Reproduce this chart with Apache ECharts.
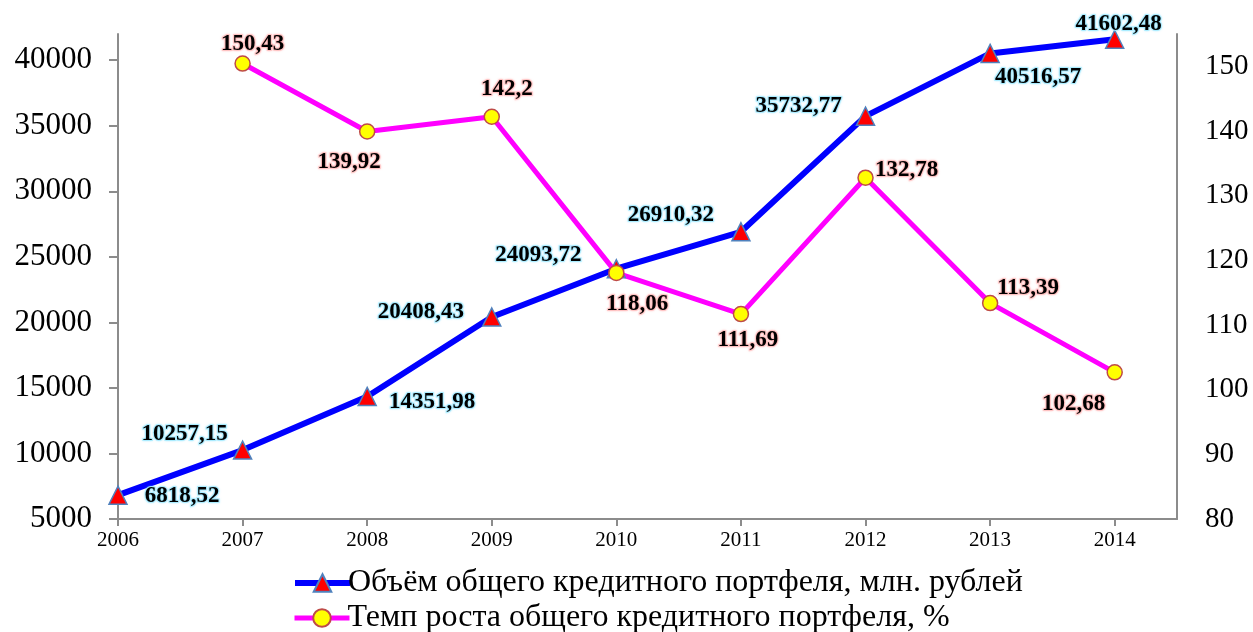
<!DOCTYPE html>
<html>
<head>
<meta charset="utf-8">
<script src="https://cdn.jsdelivr.net/npm/echarts@6/dist/echarts.min.js"></script>
<style>
html, body { margin: 0; padding: 0; background: #fff; }
#chart { width: 1253px; height: 632px; }
</style>
</head>
<body>
<div id="chart"></div>
<script>
// данные
const years = [2006, 2007, 2008, 2009, 2010, 2011, 2012, 2013, 2014]
const volume = [6818.52, 10257.15, 14351.98, 20408.43, 24093.72, 26910.32, 35732.77, 40516.57, 41602.48]
const growth = [null, 150.43, 139.92, 142.2, 118.06, 111.69, 132.78, 113.39, 102.68]
const leftTicks = [5000, 10000, 15000, 20000, 25000, 30000, 35000, 40000]
const rightTicks = [80, 90, 100, 110, 120, 130, 140, 150]

const volumeName = 'Объём общего кредитного портфеля, млн. рублей'
const growthName = 'Темп роста общего кредитного портфеля, %'

// смещения подписей относительно точек
const volumeLabelOffset = [[64, 1], [-58, -16], [65, 6], [-71, -5], [-78, -14], [-70, -17], [-67, -10], [48, 24], [4, -15]]
const growthLabelOffset = [null, [10, -19], [-18, 31], [15, -28], [21, 31], [7, 26], [41, -8], [38, -15], [-41, 32]]

const font = "'Liberation Serif', 'Times New Roman', serif"
const axisColor = '#8c8c8c'

const fmt = (v) => String(v).replace('.', ',')

const chart = echarts.init(document.getElementById('chart'))

const volumeData = years.map((y, i) => ({
    value: [y, volume[i]],
    label: { offset: volumeLabelOffset[i] }
}))
const growthData = []
years.forEach((y, i) => {
    if (growth[i] == null) return
    growthData.push({ value: [y, growth[i]], label: { offset: growthLabelOffset[i] } })
})

// легенда — два отдельных блока, один под другим
const legendBase = {
    left: 287,
    itemWidth: 55,
    itemHeight: 22,
    textStyle: { fontFamily: font, fontSize: 32, color: '#000', padding: [0, 0, 0, -7] }
}

const option = {
    animation: false,
    backgroundColor: '#fff',
    grid: { left: 118, right: 76, top: 34, bottom: 113, containLabel: false, outerBoundsMode: 'none' },
    legend: [
        Object.assign({}, legendBase, { top: 562, data: [volumeName], lineStyle: { width: 6 } }),
        Object.assign({}, legendBase, { top: 597, data: [growthName], lineStyle: { width: 5 } })
    ],
    xAxis: {
        type: 'value',
        min: 2006,
        max: 2014.5,
        axisLine: { show: true, onZero: false, lineStyle: { color: axisColor, width: 2 } },
        axisTick: { show: true, length: 7, customValues: years, lineStyle: { color: axisColor, width: 2 } },
        axisLabel: { customValues: years, margin: 11, fontFamily: font, fontSize: 21, color: '#000', formatter: (v) => String(v) },
        splitLine: { show: false }
    },
    yAxis: [
        {
            type: 'value',
            position: 'left',
            min: 5000,
            max: 42000,
            axisLine: { show: true, onZero: false, lineStyle: { color: axisColor, width: 2 } },
            axisTick: { show: true, length: 9, customValues: leftTicks, lineStyle: { color: axisColor, width: 2 } },
            axisLabel: { customValues: leftTicks, margin: 26, fontFamily: font, fontSize: 31, color: '#000', formatter: (v) => String(v) },
            splitLine: { show: false }
        },
        {
            type: 'value',
            position: 'right',
            min: 80,
            max: 155,
            axisLine: { show: true, onZero: false, lineStyle: { color: axisColor, width: 2 } },
            axisTick: { show: false },
            axisLabel: { customValues: rightTicks, margin: 28, fontFamily: font, fontSize: 29, color: '#000', formatter: (v) => String(v) },
            splitLine: { show: false }
        }
    ],
    series: [
        {
            name: volumeName,
            type: 'line',
            yAxisIndex: 0,
            data: volumeData,
            symbol: 'triangle',
            symbolSize: 18,
            lineStyle: { color: '#0000ff', width: 6 },
            itemStyle: { color: '#ff0000', borderColor: '#4f81bd', borderWidth: 1.5 },
            label: {
                show: true,
                position: 'inside',
                formatter: (p) => fmt(p.value[1]),
                fontFamily: font,
                fontWeight: 'bold',
                fontSize: 23,
                color: '#000',
                textBorderColor: 'rgba(175,238,255,0.85)',
                textBorderWidth: 2,
                textShadowColor: 'rgba(120,220,255,0.6)',
                textShadowBlur: 2
            },
            emphasis: { disabled: true }
        },
        {
            name: growthName,
            type: 'line',
            yAxisIndex: 1,
            data: growthData,
            symbol: 'circle',
            symbolSize: 15,
            lineStyle: { color: '#ff00ff', width: 5 },
            itemStyle: { color: '#ffff00', borderColor: '#be4b48', borderWidth: 1.5 },
            label: {
                show: true,
                position: 'inside',
                formatter: (p) => fmt(p.value[1]),
                fontFamily: font,
                fontWeight: 'bold',
                fontSize: 23,
                color: '#000',
                textBorderColor: 'rgba(255,200,200,0.85)',
                textBorderWidth: 2,
                textShadowColor: 'rgba(255,150,150,0.6)',
                textShadowBlur: 2
            },
            emphasis: { disabled: true }
        }
    ]
}

chart.setOption(option)
</script>
</body>
</html>
